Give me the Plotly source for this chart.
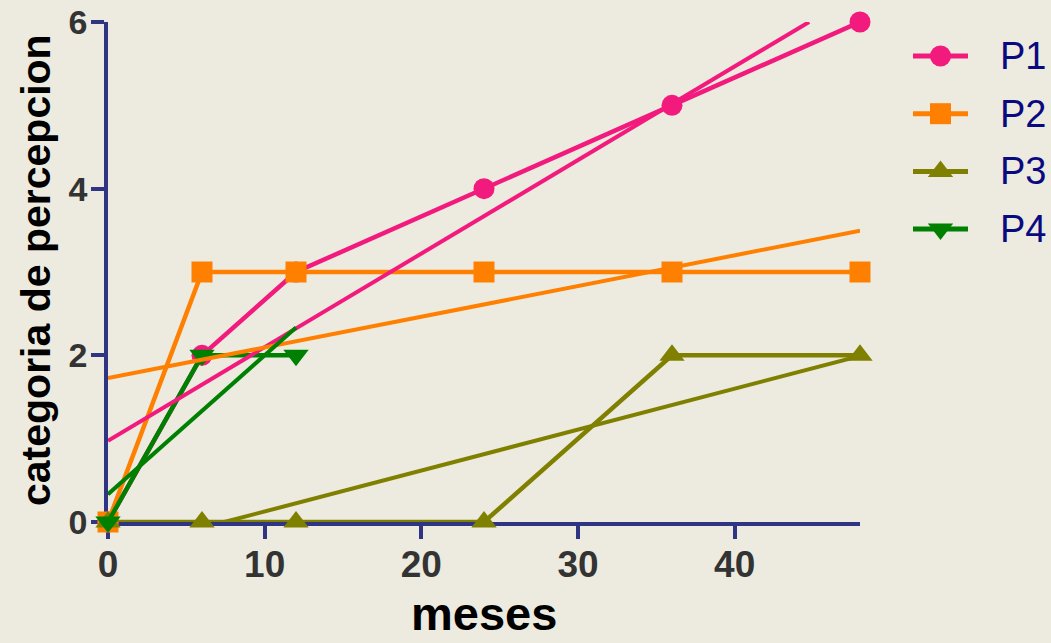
import numpy as np
import plotly.graph_objects as go

# --- data -------------------------------------------------------------
months = [0, 6, 12, 24, 36, 48]
p1 = [0, 2, 3, 4, 5, 6]
p2 = [0, 3, 3, 3, 3, 3]
p3 = [0, 0, 0, 0, 2, 2]
p4_months = [0, 6, 12]
p4 = [0, 2, 2]

series_names = ["P1", "P2", "P3", "P4"]
y_ticks = [0, 2, 4, 6]
x_ticks = [0, 10, 20, 30, 40]

# --- styling ----------------------------------------------------------
colors = ["#F21A7D", "#FF8000", "#808000", "#008000"]
symbols = ["circle", "square", "triangle-up", "triangle-down"]
sizes = [21, 21, 22, 22]
BG = "#EDEBE0"
AXIS = "#2F3483"
FONT = "Liberation Sans, Arial, sans-serif"

Y_MIN, Y_MAX = 0, 6
X_MIN, X_MAX = 0, 48

W, H = 1051, 643
ML, MR, MT, MB = 108, 0, 22, 121
plot_w = W - ML - MR
plot_h = H - MT - MB
main_frac = 752 / plot_w


def fit_segment(xs, ys, lo=Y_MIN, hi=Y_MAX):
    """Least-squares line over the x span of the data, trimmed to the y range."""
    m, b = np.polyfit(xs, ys, 1)
    x0, x1 = min(xs), max(xs)
    if m != 0:
        for bound in (lo, hi):
            xb = (bound - b) / m
            if m * x0 + b < lo and bound == lo or m * x0 + b > hi and bound == hi:
                x0 = max(x0, xb)
            if m * x1 + b > hi and bound == hi or m * x1 + b < lo and bound == lo:
                x1 = min(x1, xb)
    return [x0, x1], [m * x0 + b, m * x1 + b]


data = [(months, p1), (months, p2), (months, p3), (p4_months, p4)]

fig = go.Figure()

# observed series
for (xs, ys), name, c, sym, sz in zip(data, series_names, colors, symbols, sizes):
    fig.add_trace(go.Scatter(
        x=xs, y=ys, mode="lines+markers", name=name,
        line=dict(color=c, width=4.5),
        marker=dict(symbol=sym, size=sz, color=c, line=dict(width=0)),
        cliponaxis=False, showlegend=False,
    ))

# linear fits
for (xs, ys), c in zip(data, colors):
    fx, fy = fit_segment(xs, ys)
    fig.add_trace(go.Scatter(
        x=fx, y=fy, mode="lines", line=dict(color=c, width=4),
        cliponaxis=False, showlegend=False, hoverinfo="skip",
    ))

# key on a small auxiliary axis pair
for i, (name, c, sym, sz) in enumerate(zip(series_names, colors, symbols, sizes)):
    fig.add_trace(go.Scatter(
        x=[0, 1], y=[i, i], mode="lines", line=dict(color=c, width=5),
        xaxis="x2", yaxis="y2", showlegend=False, hoverinfo="skip",
    ))
    fig.add_trace(go.Scatter(
        x=[0.5], y=[i], mode="markers",
        marker=dict(symbol=sym, size=sz, color=c, line=dict(width=0)),
        xaxis="x2", yaxis="y2", showlegend=False, hoverinfo="skip",
        cliponaxis=False,
    ))
    fig.add_annotation(
        x=(998 - ML) / plot_w, xref="paper", xanchor="left",
        y=i, yref="y2", yanchor="middle",
        text=name, showarrow=False,
        font=dict(family=FONT, size=38, color="#0A0A80"),
    )

# axis titles
fig.add_annotation(
    x=0.5 * main_frac, xref="paper", xanchor="center",
    y=-(H - 1 - (H - MB)) / plot_h, yref="paper", yanchor="bottom",
    text="meses", showarrow=False,
    font=dict(family=FONT, size=47, color="#000000", weight="bold"),
)
fig.add_annotation(
    x=(36 - ML) / plot_w, xref="paper", xanchor="center",
    y=0.504, yref="paper", yanchor="middle",
    text="categoria de percepcion", textangle=-90, showarrow=False,
    font=dict(family=FONT, size=41, color="#000000", weight="bold"),
)

axis_common = dict(
    showline=True, linecolor=AXIS, linewidth=3.5,
    ticks="outside", ticklen=13, tickwidth=4, tickcolor=AXIS,
    showgrid=False, zeroline=False, layer="below traces",
)

fig.update_layout(
    width=W, height=H,
    margin=dict(l=ML, r=MR, t=MT, b=MB, pad=0),
    paper_bgcolor=BG, plot_bgcolor=BG,
    showlegend=False,
    xaxis=dict(
        domain=[0, main_frac], range=[X_MIN, X_MAX],
        tickvals=x_ticks, ticktext=[str(v) for v in x_ticks],
        tickfont=dict(family=FONT, size=37, color="#333333", weight="bold"),
        ticklabelstandoff=-6,
        **axis_common,
    ),
    yaxis=dict(
        range=[Y_MIN, Y_MAX],
        tickvals=y_ticks, ticktext=[str(v) for v in y_ticks],
        tickfont=dict(family=FONT, size=34, color="#333333", weight="bold"),
        ticklabelstandoff=-3,
        **axis_common,
    ),
    xaxis2=dict(
        domain=[(913 - ML) / plot_w, (968 - ML) / plot_w], range=[0, 1],
        visible=False, anchor="y2",
    ),
    yaxis2=dict(
        domain=[0, 1], range=[(522 - 56) / 57.7, (22 - 56) / 57.7],
        visible=False, anchor="x2",
    ),
)

fig.write_html("out.html")
